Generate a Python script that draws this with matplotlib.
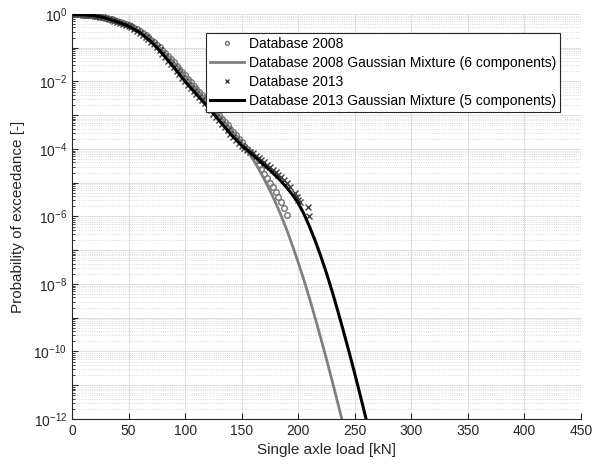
import matplotlib
matplotlib.use("agg")
import matplotlib.pyplot as plt
from matplotlib.ticker import LogLocator, NullFormatter
import numpy as np

# empirical exceedance, Database 2008 (load [kN], log10 probability)
load_2008 = [0, 2.5, 5, 7.5, 10, 12.5, 15, 17.5, 20, 22.5, 25, 27.5, 30, 32.5,
             35, 37.5, 40, 42.5, 45, 47.5, 50, 52.5, 55, 57.5, 60, 62.5, 65,
             67.5, 70, 72.5, 75, 77.5, 80, 82.5, 85, 87.5, 90, 92.5, 95, 97.5,
             100, 102.5, 105, 107.5, 110, 112.5, 115, 117.5, 120, 122.5, 125,
             127.5, 130, 132.5, 135, 137.5, 140, 142.5, 145, 147.5, 150, 152.5,
             155, 157.5, 160, 162.5, 165, 167.5, 170, 172.5, 175, 177.5, 180,
             182.5, 185, 187.5, 190]
logp_2008 = [0.0, 0.0, -0.005, -0.01, -0.015, -0.02, -0.03, -0.04, -0.05, -0.065,
             -0.08, -0.095, -0.11, -0.135, -0.16, -0.185, -0.21, -0.24, -0.27,
             -0.30, -0.33, -0.37, -0.41, -0.455, -0.50, -0.56, -0.62, -0.69,
             -0.76, -0.83, -0.91, -0.99, -1.07, -1.16, -1.25, -1.34, -1.43,
             -1.53, -1.62, -1.72, -1.82, -1.92, -2.02, -2.12, -2.22, -2.31,
             -2.41, -2.50, -2.60, -2.70, -2.80, -2.90, -3.00, -3.10, -3.20,
             -3.30, -3.40, -3.50, -3.60, -3.70, -3.80, -3.90, -4.00, -4.10,
             -4.22, -4.34, -4.47, -4.60, -4.73, -4.86, -5.00, -5.14, -5.28,
             -5.42, -5.57, -5.74, -5.95]

# empirical exceedance, Database 2013
load_2013 = [0, 2.5, 5, 7.5, 10, 12.5, 15, 17.5, 20, 22.5, 25, 27.5, 30, 32.5,
             35, 37.5, 40, 42.5, 45, 47.5, 50, 52.5, 55, 57.5, 60, 62.5, 65,
             67.5, 70, 72.5, 75, 77.5, 80, 82.5, 85, 87.5, 90, 92.5, 95, 97.5,
             100, 102.5, 105, 107.5, 110, 112.5, 115, 117.5, 120, 122.5, 125,
             127.5, 130, 132.5, 135, 137.5, 140, 142.5, 145, 147.5, 150, 152.5,
             155, 157.5, 160, 162.5, 165, 167.5, 170, 172.5, 175, 177.5, 180,
             182.5, 185, 187.5, 190, 193, 197, 198.5, 200, 201.8, 209, 209.6]
logp_2013 = [0.0, 0.0, -0.005, -0.01, -0.015, -0.02, -0.03, -0.04, -0.05, -0.065,
             -0.085, -0.10, -0.12, -0.145, -0.17, -0.20, -0.23, -0.26, -0.29,
             -0.325, -0.36, -0.40, -0.45, -0.50, -0.55, -0.61, -0.68, -0.75,
             -0.82, -0.90, -0.99, -1.08, -1.18, -1.28, -1.38, -1.48, -1.58,
             -1.68, -1.79, -1.90, -2.00, -2.10, -2.19, -2.29, -2.38, -2.47,
             -2.56, -2.65, -2.75, -2.85, -2.95, -3.05, -3.15, -3.25, -3.35,
             -3.45, -3.55, -3.64, -3.73, -3.82, -3.91, -3.98, -4.03, -4.08,
             -4.13, -4.20, -4.27, -4.34, -4.40, -4.47, -4.54, -4.61, -4.68,
             -4.76, -4.84, -4.92, -5.00, -5.12, -5.31, -5.41, -5.51, -5.56,
             -5.71, -6.0]

# Gaussian mixture fits
gm_load_2008 = [0, 10, 20, 30, 40, 50, 60, 70, 80, 90, 100, 110, 120, 130, 140,
                150, 155, 160, 165, 170, 175, 180, 185, 190, 195, 200, 205, 210,
                215, 220, 225, 230, 235, 240]
gm_logp_2008 = [-0.01, -0.02, -0.05, -0.11, -0.21, -0.33, -0.50, -0.76, -1.08,
                -1.43, -1.82, -2.22, -2.60, -3.00, -3.40, -3.80, -4.03, -4.30,
                -4.59, -4.90, -5.23, -5.59, -5.98, -6.41, -6.87, -7.36, -7.88,
                -8.43, -9.01, -9.61, -10.23, -10.87, -11.53, -12.20]

gm_load_2013 = [0, 10, 20, 30, 40, 50, 60, 70, 80, 90, 100, 110, 120, 130, 140,
                150, 155, 160, 165, 170, 175, 180, 185, 190, 195, 200, 205, 210,
                215, 220, 225, 230, 235, 240, 245, 250, 255, 260, 265]
gm_logp_2013 = [-0.01, -0.02, -0.05, -0.12, -0.23, -0.36, -0.55, -0.82, -1.18,
                -1.58, -2.00, -2.38, -2.75, -3.15, -3.55, -3.90, -4.03, -4.18,
                -4.33, -4.48, -4.63, -4.79, -4.96, -5.15, -5.36, -5.60, -5.92,
                -6.30, -6.72, -7.18, -7.68, -8.22, -8.80, -9.40, -10.02, -10.66,
                -11.32, -12.00, -12.70]

x_ticks = [0, 50, 100, 150, 200, 250, 300, 350, 400, 450]
y_exps = list(range(0, -13, -1))

plt.rcParams['font.family'] = ['Liberation Sans', 'DejaVu Sans']
plt.rcParams['font.size'] = 10
plt.rcParams['mathtext.fontset'] = 'custom'
plt.rcParams['mathtext.rm'] = 'Liberation Sans'
plt.rcParams['mathtext.default'] = 'regular'

dark = (0.15, 0.15, 0.15)

fig = plt.figure(figsize=(5.94, 4.72), dpi=100)
ax = fig.add_axes([72 / 594, 53 / 472, 509 / 594, 405 / 472])

ax.plot(load_2008, 10 ** np.array(logp_2008), 'o', ms=4.0, mfc='none',
        mec=(0.45, 0.45, 0.45), mew=1.0, label='Database 2008')
ax.plot(gm_load_2008, 10 ** np.array(gm_logp_2008), '-', color=(0.5, 0.5, 0.5),
        lw=2.0, label='Database 2008 Gaussian Mixture (6 components)')
ax.plot(load_2013, 10 ** np.array(logp_2013), 'x', ms=4.5, color=(0.25, 0.25, 0.25),
        mew=1.0, label='Database 2013')
ax.plot(gm_load_2013, 10 ** np.array(gm_logp_2013), '-', color='black',
        lw=2.2, label='Database 2013 Gaussian Mixture (5 components)')

ax.set_yscale('log')
ax.set_xlim(0, 450)
ax.set_ylim(1e-12, 1)
ax.set_xticks(x_ticks)
ax.set_yticks([10.0 ** e for e in y_exps],
              ['$10^{%d}$' % e if e % 2 == 0 else '' for e in y_exps])
ax.yaxis.set_minor_locator(LogLocator(base=10, subs=np.arange(2, 10), numticks=50))
ax.yaxis.set_minor_formatter(NullFormatter())

ax.grid(True, which='major', color=(0.85, 0.85, 0.85), lw=0.6, ls='-')
ax.yaxis.grid(True, which='minor', color=(0.82, 0.82, 0.82), lw=0.6, ls=':')
ax.set_axisbelow(True)

for side in ['top', 'right']:
    ax.spines[side].set_visible(False)
for side in ['left', 'bottom']:
    ax.spines[side].set_color(dark)
    ax.spines[side].set_linewidth(0.8)
ax.tick_params(which='both', direction='in', colors=dark, labelcolor=dark)
ax.tick_params(which='major', length=4)
ax.tick_params(which='minor', length=2)

ax.set_xlabel('Single axle load [kN]', color=dark, fontsize=11)
ax.set_ylabel('Probability of exceedance [-]', color=dark, fontsize=11, labelpad=6)

leg = ax.legend(loc='upper left', bbox_to_anchor=((206 - 72) / 509, (419 - 33) / 405),
                borderaxespad=0, fancybox=False, framealpha=1, edgecolor=dark,
                numpoints=1, markerscale=0.7, handlelength=2.4, handletextpad=0.4,
                labelspacing=0.35, borderpad=0.3, fontsize=10)
leg.get_frame().set_linewidth(0.8)

plt.savefig('out.png', dpi=100)
